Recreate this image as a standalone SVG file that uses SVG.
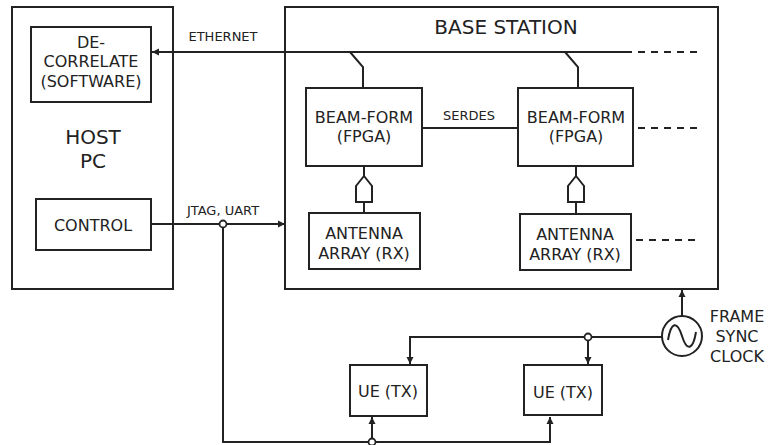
<svg xmlns="http://www.w3.org/2000/svg" width="771" height="445" viewBox="0 0 771 445">
<defs>
<style>
.box{fill:#fff;stroke:#222;stroke-width:2}
.frame{fill:none;stroke:#222;stroke-width:2}
.ln{fill:none;stroke:#222;stroke-width:2}
.dash{fill:none;stroke:#222;stroke-width:2;stroke-dasharray:7 6}
.jn{fill:#fff;stroke:#222;stroke-width:1.8}
text{font-family:"DejaVu Sans","Verdana",sans-serif;fill:#222;text-anchor:middle}
.t16{font-size:16px}
.t20{font-size:20px}
.t13{font-size:13px}
</style>
<marker id="arr" markerUnits="userSpaceOnUse" markerWidth="8" markerHeight="8" refX="7" refY="4" orient="auto">
<path d="M0,0.5 L7,4 L0,7.5 z" fill="#222"/>
</marker>
</defs>

<g id="host-pc">
<rect class="frame" x="12" y="7" width="161" height="282"/>
<text class="t20" x="93" y="144">HOST</text>
<text class="t20" x="93" y="168">PC</text>
</g>
<g id="decorrelate">
<rect class="box" x="31" y="27" width="120" height="75"/>
<text class="t16" x="91" y="48">DE-</text>
<text class="t16" x="91" y="67">CORRELATE</text>
<text class="t16" x="91" y="87">(SOFTWARE)</text>
</g>
<g id="control">
<rect class="box" x="36" y="199" width="115" height="51"/>
<text class="t16" x="93" y="231">CONTROL</text>
</g>

<g id="base-station">
<rect class="frame" x="285" y="7" width="433" height="282"/>
<text class="t20" x="506" y="34">BASE STATION</text>
</g>

<g id="connectors">
<!-- Ethernet bus -->
<line class="ln" x1="632" y1="52" x2="152" y2="52" marker-end="url(#arr)"/>
<line class="dash" x1="638" y1="52" x2="698" y2="52"/>
<polyline class="ln" points="350,52 363,67 363,88"/>
<polyline class="ln" points="565,52 578,67 578,88"/>
<!-- SERDES -->
<line class="ln" x1="422" y1="128" x2="518" y2="128"/>
<line class="dash" x1="638" y1="128" x2="698" y2="128"/>
<line class="dash" x1="636" y1="240" x2="698" y2="240"/>
<!-- antenna links -->
<line class="ln" x1="364" y1="166" x2="364" y2="176"/>
<path class="ln" d="M364,176 L356,186 L356,202 L372,202 L372,186 Z"/>
<line class="ln" x1="364" y1="202" x2="364" y2="213"/>
<line class="ln" x1="576" y1="166" x2="576" y2="176"/>
<path class="ln" d="M576,176 L568,186 L568,202 L584,202 L584,186 Z"/>
<line class="ln" x1="576" y1="202" x2="576" y2="214"/>
<!-- JTAG/UART -->
<line class="ln" x1="151" y1="224" x2="285" y2="224" marker-end="url(#arr)"/>
<polyline class="ln" points="223,224 223,442 550,442 550,417" marker-end="url(#arr)"/>
<line class="ln" x1="372" y1="442" x2="372" y2="417" marker-end="url(#arr)"/>
<circle class="jn" cx="223" cy="224" r="3.5"/>
<circle class="jn" cx="372" cy="442" r="3.5"/>
<!-- clock -->
<line class="ln" x1="682" y1="316" x2="682" y2="290" marker-end="url(#arr)"/>
<polyline class="ln" points="662,337 410,337 410,364" marker-end="url(#arr)"/>
<line class="ln" x1="588" y1="337" x2="588" y2="364" marker-end="url(#arr)"/>
<circle class="jn" cx="588" cy="337" r="3.5"/>
</g>

<g id="beamform-1">
<rect class="box" x="306" y="88" width="116" height="78"/>
<text class="t16" x="364" y="123">BEAM-FORM</text>
<text class="t16" x="364" y="142">(FPGA)</text>
</g>
<g id="beamform-2">
<rect class="box" x="518" y="88" width="115" height="78"/>
<text class="t16" x="576" y="123">BEAM-FORM</text>
<text class="t16" x="576" y="142">(FPGA)</text>
</g>
<g id="antenna-1">
<rect class="box" x="309" y="213" width="111" height="56"/>
<text class="t16" x="364" y="239">ANTENNA</text>
<text class="t16" x="364" y="259">ARRAY (RX)</text>
</g>
<g id="antenna-2">
<rect class="box" x="520" y="214" width="111" height="56"/>
<text class="t16" x="575" y="240">ANTENNA</text>
<text class="t16" x="575" y="260">ARRAY (RX)</text>
</g>
<g id="ue-1">
<rect class="box" x="350" y="365" width="77" height="51"/>
<text class="t16" x="388" y="397">UE (TX)</text>
</g>
<g id="ue-2">
<rect class="box" x="524" y="365" width="78" height="50"/>
<text class="t16" x="563" y="398">UE (TX)</text>
</g>
<g id="frame-sync-clock">
<circle class="box" cx="682" cy="336" r="20"/>
<path class="ln" d="M668,340 C671,322 677,320 682,336 C687,352 693,350 696,332"/>
<text class="t16" x="737" y="322">FRAME</text>
<text class="t16" x="737" y="342">SYNC</text>
<text class="t16" x="737" y="362">CLOCK</text>
</g>
<g id="labels">
<text class="t13" x="223" y="41">ETHERNET</text>
<text class="t13" x="469" y="120">SERDES</text>
<text class="t13" x="223" y="215">JTAG, UART</text>
</g>
</svg>
